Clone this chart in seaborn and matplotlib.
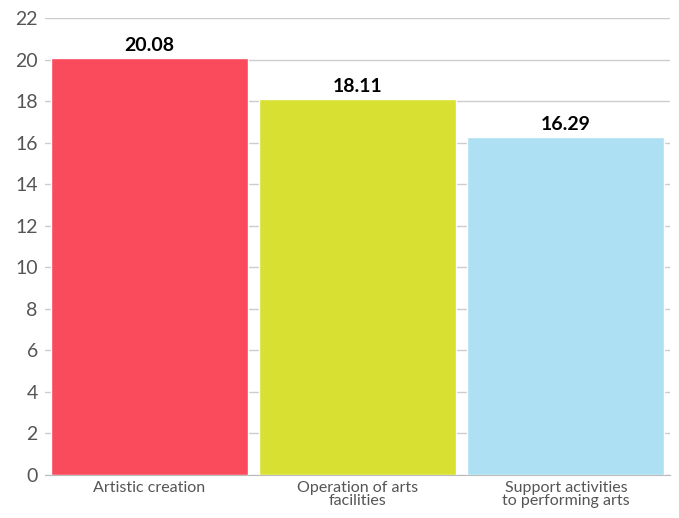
import matplotlib.pyplot as plt
import seaborn as sns
import pandas as pd
from matplotlib.ticker import FixedLocator

categories = ["Artistic creation", "Operation of arts\nfacilities", "Support activities\nto performing arts"]
values = [20.08, 18.11, 16.29]
colors = ["#F94B5C", "#D8E032", "#ADE0F2"]
y_ticks = list(range(0, 23, 2))

df = pd.DataFrame({"category": categories, "value": values})

sns.set_style("white")
plt.rcParams["font.family"] = ["Lato", "DejaVu Sans"]

fig = plt.figure(figsize=(6.79, 5.18), dpi=100)
ax = fig.add_axes([0.066, 0.083, 0.921, 0.882])
sns.barplot(data=df, x="category", y="value", hue="category", palette=colors,
            width=0.945, saturation=1, legend=False, ax=ax, zorder=3)

for i, v in enumerate(values):
    ax.text(i, v + 0.2, f"{v:.2f}", ha="center", va="bottom",
            fontsize=14, fontweight="bold", color="black")

ax.set_ylim(0, 22)
ax.set_xlim(-0.5, 2.5)
ax.set_yticks(y_ticks)
ax.yaxis.grid(True, color="#cccccc", linewidth=1, zorder=0)
ax.set_axisbelow(True)
ax.set_xlabel("")
ax.set_ylabel("")
ax.tick_params(axis="y", labelsize=14, labelcolor="#555555", length=0, pad=5)
ax.tick_params(axis="x", which="major", labelsize=11.5, labelcolor="#555555", length=0, pad=4)
for lbl in ax.get_xticklabels():
    lbl.set_linespacing(0.95)
ax.xaxis.set_minor_locator(FixedLocator([-0.5, 0.5, 1.5, 2.5]))
ax.tick_params(axis="x", which="minor", length=5, color="#bbbbbb")

for s in ["top", "right", "left"]:
    ax.spines[s].set_visible(False)
ax.spines["bottom"].set_color("#bbbbbb")

plt.savefig("out.png", dpi=100)
plt.close()
